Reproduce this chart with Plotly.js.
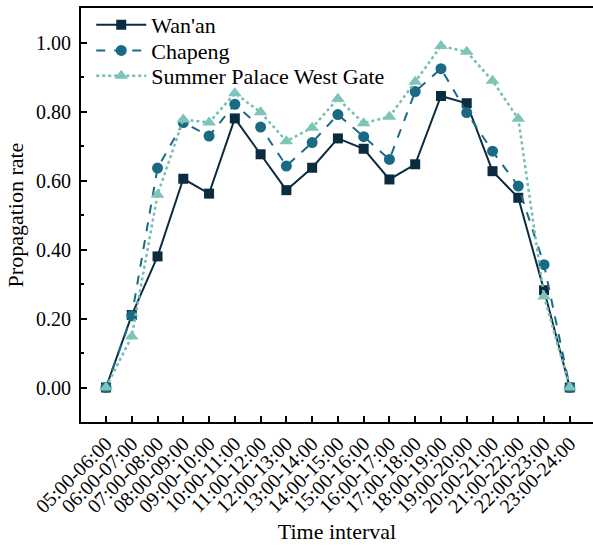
<!DOCTYPE html>
<html>
<head>
<meta charset="utf-8">
<script src="https://cdn.plot.ly/plotly-3.0.1.min.js"></script>
<style>html,body{margin:0;padding:0;background:#fff;}#chart{width:593px;height:548px;}</style>
</head>
<body>
<div id="chart"></div>
<script>
const intervals = ["05:00-06:00","06:00-07:00","07:00-08:00","08:00-09:00","09:00-10:00","10:00-11:00","11:00-12:00","12:00-13:00","13:00-14:00","14:00-15:00","15:00-16:00","16:00-17:00","17:00-18:00","18:00-19:00","19:00-20:00","20:00-21:00","21:00-22:00","22:00-23:00","23:00-24:00"];
const wanan = [0.00,0.21,0.38,0.605,0.562,0.78,0.676,0.572,0.637,0.722,0.692,0.603,0.647,0.845,0.824,0.627,0.55,0.282,0.00];
const chapeng = [0.00,0.208,0.636,0.768,0.729,0.821,0.755,0.642,0.71,0.791,0.727,0.661,0.858,0.924,0.797,0.685,0.584,0.356,0.00];
const summerPalace = [0.00,0.148,0.559,0.777,0.768,0.853,0.798,0.714,0.753,0.837,0.766,0.785,0.886,0.99,0.973,0.889,0.779,0.264,0.00];

const font = "Liberation Serif";
const xs = intervals.map((_, i) => i);

const traces = [
  {x: xs, y: wanan, name: "Wan'an", type: "scatter", mode: "lines+markers", legend: "legend",
   line: {color: "#0b2b3e", width: 2, dash: "solid"},
   marker: {symbol: "square", size: 10, color: "#0b2b3e"}},
  {x: xs, y: chapeng, name: "Chapeng", type: "scatter", mode: "lines+markers", legend: "legend2",
   line: {color: "#1a6a86", width: 2, dash: "dash"},
   marker: {symbol: "circle", size: 11, color: "#1a6a86"}},
  {x: xs, y: summerPalace, name: "Summer Palace West Gate", type: "scatter", mode: "lines+markers", legend: "legend3",
   line: {color: "#74bfb3", width: 2.5, dash: "dot"},
   marker: {symbol: "triangle-up", size: 12, color: "#7ec4b8"}}
];

function legendAt(yc) {
  return {x: 0.02, y: yc, xanchor: "left", yanchor: "middle", bgcolor: "rgba(0,0,0,0)",
          font: {family: font, size: 22, color: "#000"}, itemwidth: 50};
}

const layout = {
  width: 593, height: 548,
  margin: {l: 81, r: 0, t: 8, b: 126},
  paper_bgcolor: "#fff", plot_bgcolor: "#fff",
  font: {family: font, color: "#000", size: 19},
  showlegend: true,
  legend: legendAt(0.959),
  legend2: legendAt(0.897),
  legend3: legendAt(0.836),
  xaxis: {
    range: [-0.97, 18.9], tickmode: "array", tickvals: xs, ticktext: intervals,
    tickangle: -45, ticks: "inside", ticklen: 6, tickwidth: 2, tickcolor: "#000",
    showline: true, linewidth: 2, linecolor: "#000", mirror: true,
    showgrid: false, zeroline: false,
    tickfont: {family: font, size: 20, color: "#000"},
    title: {text: "Time interval", font: {family: font, size: 22, color: "#000"}, standoff: 8}
  },
  yaxis: {
    range: [-0.1, 1.1], tickmode: "array", tickvals: [0,0.2,0.4,0.6,0.8,1.0],
    ticktext: ["0.00","0.20","0.40","0.60","0.80","1.00"],
    ticks: "inside", ticklen: 6, tickwidth: 2, tickcolor: "#000",
    minor: {tickvals: [0.1,0.3,0.5,0.7,0.9], ticks: "inside", ticklen: 3, tickwidth: 1.5, tickcolor: "#000"},
    showline: true, linewidth: 2, linecolor: "#000",
    showgrid: false, zeroline: false, ticklabelstandoff: 4,
    tickfont: {family: font, size: 20, color: "#000"},
    title: {text: "Propagation rate", font: {family: font, size: 22, color: "#000"}, standoff: 6}
  }
};

Plotly.newPlot("chart", traces, layout, {displayModeBar: false, staticPlot: true});
</script>
</body>
</html>
